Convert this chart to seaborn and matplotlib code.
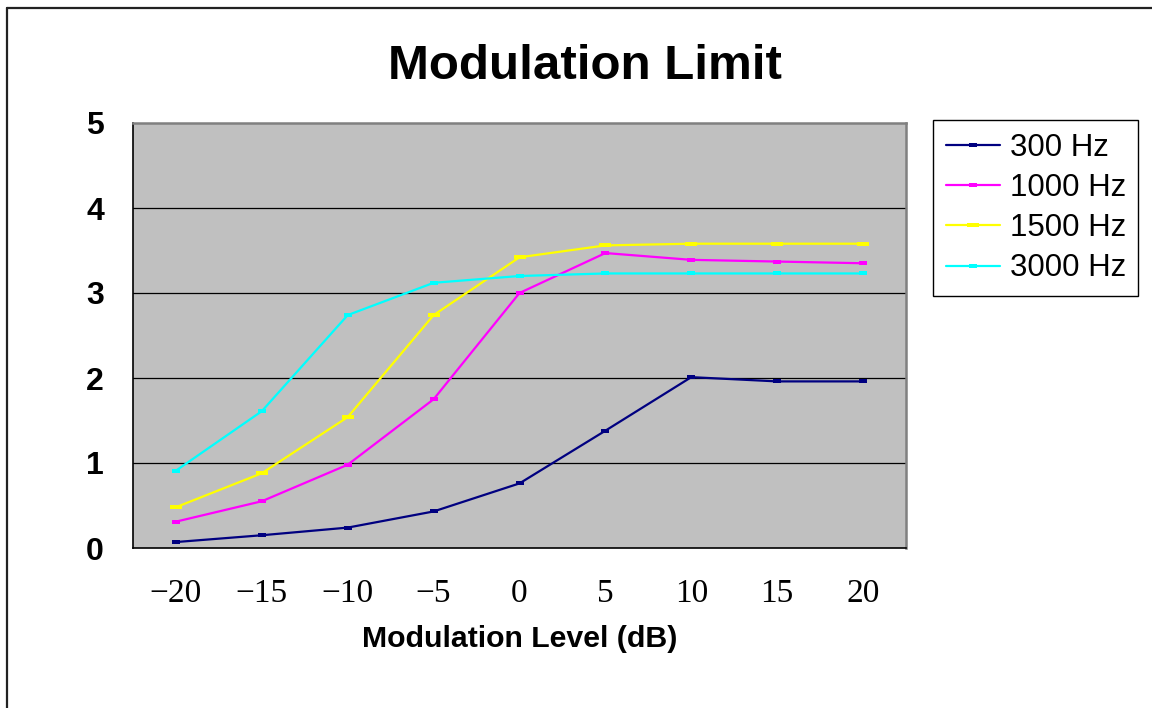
import matplotlib
matplotlib.use("Agg")
import matplotlib.pyplot as plt
from matplotlib.path import Path
from matplotlib.lines import Line2D
import seaborn as sns
import pandas as pd

# ---- data ----
levels = [-20, -15, -10, -5, 0, 5, 10, 15, 20]
series_names = ["300 Hz", "1000 Hz", "1500 Hz", "3000 Hz"]
hz300 = [0.07, 0.15, 0.24, 0.43, 0.76, 1.38, 2.01, 1.96, 1.96]
hz1000 = [0.31, 0.55, 0.98, 1.75, 3.00, 3.47, 3.39, 3.37, 3.35]
hz1500 = [0.48, 0.88, 1.54, 2.74, 3.42, 3.56, 3.58, 3.58, 3.58]
hz3000 = [0.91, 1.61, 2.74, 3.12, 3.20, 3.23, 3.23, 3.23, 3.23]
y_ticks = [0, 1, 2, 3, 4, 5]
colors = ["#000080", "#FF00FF", "#FFFF00", "#00FFFF"]
marker_sizes = [5.5, 5.5, 8.0, 5.5]

sns.set_style("white")
plt.rcParams["font.family"] = ["Liberation Sans", "DejaVu Sans"]
plt.rcParams["text.color"] = "black"
plt.rcParams["xtick.color"] = "black"
plt.rcParams["ytick.color"] = "black"
plt.rcParams["axes.labelcolor"] = "black"

W, H = 1152, 708
fig = plt.figure(figsize=(W / 100, H / 100), dpi=100)
ax = fig.add_axes([133 / W, 1 - 548 / H, (906 - 133) / W, (548 - 123) / H])
ax.set_facecolor("#C0C0C0")

rect = Path([(-1, -0.42), (1, -0.42), (1, 0.42), (-1, 0.42), (-1, -0.42)],
            [Path.MOVETO, Path.LINETO, Path.LINETO, Path.LINETO, Path.CLOSEPOLY])

for name, vals, c, ms in zip(series_names, [hz300, hz1000, hz1500, hz3000], colors, marker_sizes):
    df = pd.DataFrame({"level": levels, "value": vals})
    sns.lineplot(data=df, x="level", y="value", ax=ax, color=c, lw=1.6,
                 marker=rect, markersize=ms, markeredgewidth=0,
                 label=name, errorbar=None, zorder=3)

step = levels[1] - levels[0]
ax.set_xlim(levels[0] - step / 2, levels[-1] + step / 2)
ax.set_ylim(y_ticks[0], y_ticks[-1])

bounds = [levels[0] - step / 2 + step * i for i in range(len(levels) + 1)]
ax.set_xticks(bounds)
ax.set_xticklabels([])
ax.set_xticks(levels, minor=True)
ax.set_xticklabels([str(v).replace("-", "\u2212") for v in levels], minor=True,
                   fontfamily="Liberation Serif", fontsize=24, color="black")
ax.tick_params(axis="x", which="major", direction="out", length=8, width=1.2, color="black")
ax.tick_params(axis="x", which="minor", length=0, pad=22)

ax.set_yticks(y_ticks)
ax.set_yticklabels([str(v) for v in y_ticks], fontsize=23, fontweight="bold", color="black")
ax.tick_params(axis="y", direction="inout", length=8, width=1.0, color="black", pad=17)

ax.grid(False)
for v in y_ticks[1:-1]:
    ax.axhline(v, color="black", lw=0.9, zorder=1)

ax.set_xlabel("")
ax.set_ylabel("")
for s in ["left", "bottom"]:
    ax.spines[s].set_color("black")
    ax.spines[s].set_linewidth(1.2)
for s in ["top", "right"]:
    ax.spines[s].set_color("#808080")
    ax.spines[s].set_linewidth(1.8)

fig.text(585 / W, 1 - 79 / H, "Modulation Limit", ha="center", va="baseline",
         fontsize=35.5, fontweight="bold", color="black")
fig.text(519.5 / W, 1 - 647 / H, "Modulation Level (dB)", ha="center", va="baseline",
         fontsize=21.8, fontweight="bold", color="black")

leg = ax.legend(loc="upper left", bbox_to_anchor=(933 / W, 1 - 120 / H),
                bbox_transform=fig.transFigure, borderaxespad=0, fontsize=22.5,
                frameon=True, fancybox=False, shadow=False, handlelength=1.75,
                handletextpad=0.3, labelspacing=0.33, borderpad=0.4)
leg.get_frame().set_edgecolor("black")
leg.get_frame().set_linewidth(1.0)
leg.get_frame().set_facecolor("white")
leg.get_frame().set_alpha(1)
for t in leg.get_texts():
    t.set_color("black")

fig.add_artist(Line2D([7 / W, 1], [1 - 8 / H, 1 - 8 / H], transform=fig.transFigure,
                      color="#222222", lw=1.6))
fig.add_artist(Line2D([7 / W, 7 / W], [0, 1 - 8 / H], transform=fig.transFigure,
                      color="#222222", lw=1.6))

fig.savefig("out.png", dpi=100)
